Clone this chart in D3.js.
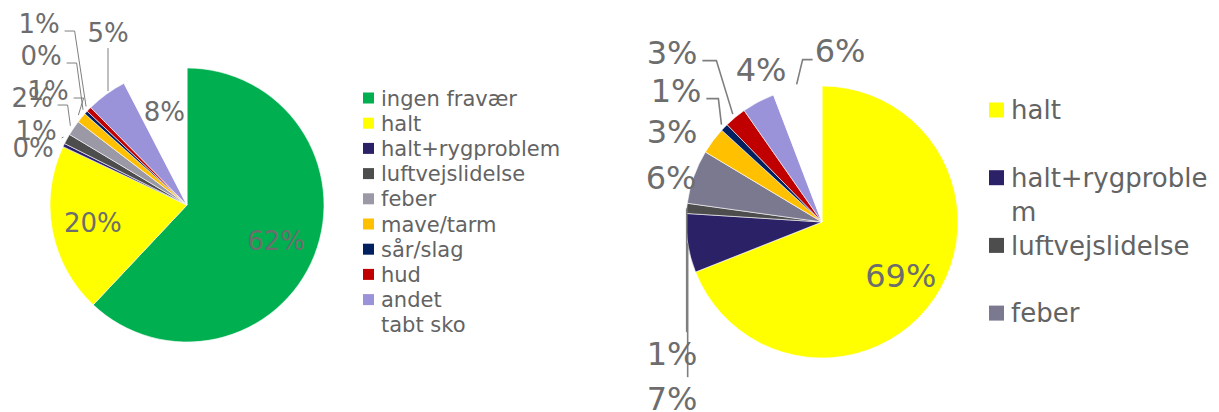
<!DOCTYPE html>
<html>
<head>
<meta charset="utf-8">
<script src="https://cdn.jsdelivr.net/npm/d3@7"></script>
<style>
  body { margin: 0; background: #fff; }
  svg { display: block; font-family: "DejaVu Sans", Verdana, sans-serif; }
</style>
</head>
<body>
<svg id="chart" width="1219" height="412"></svg>
<script>
// data (percent shares)
const leftCats = ["ingen fravær", "halt", "halt+rygproblem", "luftvejslidelse", "feber",
                  "mave/tarm", "sår/slag", "hud", "andet", "tabt sko"];
const leftVals = [62, 20, 0.4, 1.2, 1.8, 1.2, 0.4, 0.6, 4.8, 7.6];

const rightCats = ["halt", "halt+rygproblem", "luftvejslidelse", "feber",
                   "mave/tarm", "sår/slag", "hud", "andet", "tabt sko"];
const rightVals = [69, 7, 1.2, 6.4, 3.2, 0.9, 2.6, 3.9, 5.8];

// colours per category
const colors = {
    "ingen fravær": "#00b050",
    "halt": "#ffff00",
    "halt+rygproblem": "#2b2166",
    "luftvejslidelse": "#4d4d4d",
    "mave/tarm": "#ffc000",
    "sår/slag": "#002060",
    "hud": "#c00000",
    "andet": "#9a93da",
    "tabt sko": "#ffffff"
};
const feberLeft = "#9b99a6", feberRight = "#7b7990";

// label layout: 'in' = inside at radius factor, otherwise offset from pie centre
const leftLabelLayout = [
    {mode: "in"}, {mode: "in"},
    {dx: -154, dy: -57},
    {dx: -151, dy: -74, lead: "r", el: 0},
    {dx: -155, dy: -107, lead: "r", el: 10},
    {dx: -139, dy: -114, lead: "r", el: 10},
    {dx: -146, dy: -149, lead: "r", el: 10},
    {dx: -148, dy: -181, lead: "r", el: 10},
    {dx: -79, dy: -172, lead: "b"},
    {mode: "in"}
];
const rightLabelLayout = [
    {mode: "in"},
    {dx: -150, dy: 176, lead: "t"},
    {dx: -150, dy: 131, lead: "t"},
    {dx: -151, dy: -45},
    {dx: -150, dy: -91},
    {dx: -146, dy: -132, lead: "r", el: 12},
    {dx: -150, dy: -170, lead: "r", el: 14},
    {dx: -61, dy: -153},
    {dx: 18, dy: -172, lead: "l", el: 10}
];

const svg = d3.select("#chart");
const labelColor = "#6d6d6d", legendColor = "#636363", leadColor = "#7f7f7f";

function drawPie(opt) {
    const {cats, vals, cx, cy, r, fs, layout, feber, leadW} = opt;
    const g = svg.append("g").attr("transform", `translate(${cx},${cy})`);
    const total = d3.sum(vals);
    const pie = d3.pie().sort(null).value(d => d.v);
    const arcs = pie(cats.map((c, i) => ({c: c, v: vals[i]})));
    const arc = d3.arc().innerRadius(0).outerRadius(r);
    const col = c => c === "feber" ? feber : colors[c];

    g.selectAll("path.slice")
        .data(arcs)
        .join("path")
        .attr("class", "slice")
        .attr("d", arc)
        .attr("fill", d => col(d.data.c))
        .attr("stroke", "#fff")
        .attr("stroke-width", 0.6);

    const polar = (a, rad) => [rad * Math.sin(a), -rad * Math.cos(a)];

    arcs.forEach((d, i) => {
        const L = layout[i];
        const txt = Math.round(d.data.v / total * 100) + "%";
        const mid = (d.startAngle + d.endAngle) / 2;
        let x, y;
        if (L.mode === "in") {
            [x, y] = polar(mid, r * 0.7);
        } else {
            x = L.dx; y = L.dy;
        }
        const t = g.append("text")
            .attr("x", x)
            .attr("y", y + fs * 0.36)
            .attr("text-anchor", "middle")
            .attr("fill", labelColor)
            .style("font-size", fs + "px")
            .text(txt);
        if (!L.lead) return;
        const w = t.node().getComputedTextLength();
        const end = polar(mid, r + 4);
        let pts;
        if (L.lead === "r") {
            const ly = y + fs * 0.27;
            const x0 = x + w / 2 + 5;
            pts = [[x0, ly], [x0 + L.el, ly], end];
        } else if (L.lead === "l") {
            const ly = y + fs * 0.3;
            const x0 = x - w / 2 - 2;
            pts = [[x0, ly], [x0 - L.el, ly], end];
        } else if (L.lead === "b") {
            const ey = -Math.sqrt(r * r - x * x) - 2;
            pts = [[x, y + fs * 0.58], [x, ey]];
        } else if (L.lead === "t") {
            const a = polar(mid, r);
            pts = [[a[0], a[1]], [a[0], y - fs * 0.65]];
        }
        g.append("path")
            .attr("d", d3.line()(pts))
            .attr("fill", "none")
            .attr("stroke", leadColor)
            .attr("stroke-width", leadW);
    });
}

function drawLegend(opt) {
    const {cats, x, y0, step, sw, tx, fs, lineH, maxW, feber} = opt;
    const g = svg.append("g");
    cats.forEach((c, i) => {
        const y = y0 + i * step;
        g.append("rect")
            .attr("x", x).attr("y", y - sw / 2)
            .attr("width", sw).attr("height", sw)
            .attr("fill", c === "feber" ? feber : colors[c]);
        const t = g.append("text")
            .attr("x", tx)
            .attr("y", y + fs * 0.36)
            .attr("fill", legendColor)
            .style("font-size", fs + "px");
        // character wrap when the entry is too wide
        let lines = [c];
        if (maxW) {
            t.text(c);
            if (t.node().getComputedTextLength() > maxW) {
                let cut = c.length;
                while (cut > 1) {
                    t.text(c.slice(0, cut));
                    if (t.node().getComputedTextLength() <= maxW) break;
                    cut--;
                }
                lines = [c.slice(0, cut), c.slice(cut)];
            }
        }
        t.text(null);
        lines.forEach((s, k) => {
            t.append("tspan").attr("x", tx).attr("dy", k ? lineH : 0).text(s);
        });
    });
}

drawPie({cats: leftCats, vals: leftVals, cx: 187, cy: 205, r: 137, fs: 26,
         layout: leftLabelLayout, feber: feberLeft, leadW: 1});
drawPie({cats: rightCats, vals: rightVals, cx: 822, cy: 222, r: 136, fs: 32,
         layout: rightLabelLayout, feber: feberRight, leadW: 1.6});

drawLegend({cats: leftCats, x: 363, y0: 98, step: 25.2, sw: 11, tx: 381, fs: 21,
            lineH: 25, feber: feberLeft});
// the right legend is clipped by the chart frame after four entries
drawLegend({cats: rightCats.slice(0, 4), x: 989, y0: 110, step: 67.7, sw: 15, tx: 1011, fs: 26,
            lineH: 34, maxW: 205, feber: feberRight});
</script>
</body>
</html>
